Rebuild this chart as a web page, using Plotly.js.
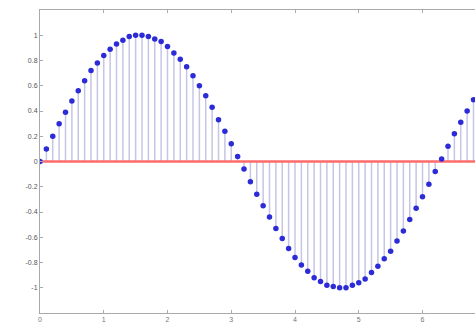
<!DOCTYPE html>
<html>
<head>
<meta charset="utf-8">
<script src="https://cdn.plot.ly/plotly-3.0.1.min.js"></script>
<style>
html,body{margin:0;padding:0;overflow:hidden;background:#fff;width:475px;height:326px;}
#chart{width:620px;height:326px;}
</style>
</head>
<body>
<div id="chart"></div>
<script>
// sample positions (0.1 spacing)
const xValues = [0.0,0.1,0.2,0.3,0.4,0.5,0.6,0.7,0.8,0.9,1.0,1.1,1.2,1.3,1.4,1.5,1.6,1.7,1.8,1.9,2.0,2.1,2.2,2.3,2.4,2.5,2.6,2.7,2.8,2.9,3.0,3.1,3.2,3.3,3.4,3.5,3.6,3.7,3.8,3.9,4.0,4.1,4.2,4.3,4.4,4.5,4.6,4.7,4.8,4.9,5.0,5.1,5.2,5.3,5.4,5.5,5.6,5.7,5.8,5.9,6.0,6.1,6.2,6.3,6.4,6.5,6.6,6.7,6.8,6.9,7.0,7.1,7.2,7.3,7.4,7.5];
// sample values
const yValues = [0.00,0.10,0.20,0.30,0.39,0.48,0.56,0.64,0.72,0.78,0.84,0.89,0.93,0.96,0.99,1.00,1.00,0.99,0.97,0.95,0.91,0.86,0.81,0.75,0.68,0.60,0.52,0.43,0.33,0.24,0.14,0.04,-0.06,-0.16,-0.26,-0.35,-0.44,-0.53,-0.61,-0.69,-0.76,-0.82,-0.87,-0.92,-0.95,-0.98,-0.99,-1.00,-1.00,-0.98,-0.96,-0.93,-0.88,-0.83,-0.77,-0.71,-0.63,-0.55,-0.46,-0.37,-0.28,-0.18,-0.08,0.02,0.12,0.22,0.31,0.40,0.49,0.58,0.66,0.73,0.79,0.85,0.90,0.94];
const xTickVals = [0,1,2,3,4,5,6];
const xTickText = ["0","1","2","3","4","5","6"];
const yTickVals = [-1,-0.8,-0.6,-0.4,-0.2,0,0.2,0.4,0.6,0.8,1];
const yTickText = ["-1","-0.8","-0.6","-0.4","-0.2","0","0.2","0.4","0.6","0.8","1"];
const baseline = 0;

// stems built from data
const stemX = [], stemY = [];
xValues.forEach((x,i)=>{ stemX.push(x,x,null); stemY.push(baseline,yValues[i],null); });

const traces = [
  {x: stemX, y: stemY, mode:'lines', type:'scatter', line:{color:'rgba(110,110,190,0.4)', width:1.5}, hoverinfo:'skip', showlegend:false},
  {x: [xValues[0], xValues[xValues.length-1]], y:[baseline, baseline], mode:'lines', type:'scatter', line:{color:'#ff6b6b', width:2.5}, showlegend:false},
  {x: xValues, y: yValues, mode:'markers', type:'scatter', marker:{color:'#2b2bd8', size:5.5, line:{width:0}}, showlegend:false}
];

const layout = {
  width: 620, height: 326,
  margin: {l:40, r:70, t:10, b:13},
  paper_bgcolor:'#fff', plot_bgcolor:'#fff',
  font: {family:'Liberation Sans, Arial, sans-serif', size:7, color:'#666'},
  xaxis: {range:[0,8], tickvals:xTickVals, ticktext:xTickText, showgrid:false, zeroline:false,
          showline:true, mirror:'ticks', linecolor:'#aaa', linewidth:1, ticks:'inside', ticklen:3, tickcolor:'#aaa',
          tickfont:{size:7,color:'#777'}},
  yaxis: {range:[-1.2,1.2], tickvals:yTickVals, ticktext:yTickText, showgrid:false, zeroline:false,
          showline:true, mirror:'ticks', linecolor:'#aaa', linewidth:1, ticks:'inside', ticklen:3, tickcolor:'#aaa',
          tickfont:{size:7,color:'#555'}}
};

Plotly.newPlot('chart', traces, layout, {displayModeBar:false, staticPlot:true});
</script>
</body>
</html>
